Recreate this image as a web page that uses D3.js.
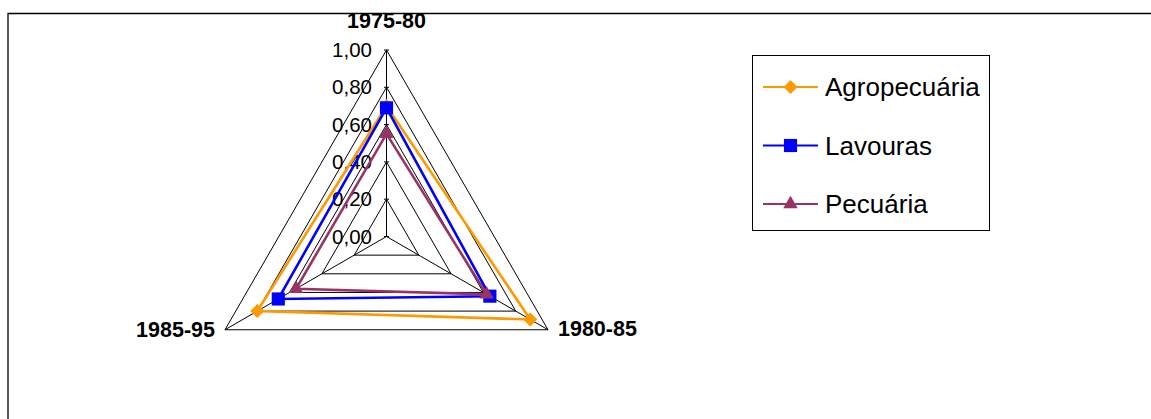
<!DOCTYPE html>
<meta charset="utf-8">
<script src="https://d3js.org/d3.v7.min.js"></script>
<style>
  body { margin: 0; background: #fff; }
  text { font-family: "Liberation Sans", Arial, sans-serif; }
</style>
<div id="chart"></div>
<script>

// data
var categories = ["1975-80", "1980-85", "1985-95"];
var agropecuaria = [0.70, 0.89, 0.80];
var lavouras = [0.69, 0.64, 0.67];
var pecuaria = [0.55, 0.62, 0.56];
var tickValues = [0, 0.2, 0.4, 0.6, 0.8, 1.0];

var series = [
  {name: "Agropecuária", values: agropecuaria, color: "#FF9900", symbol: d3.symbolDiamond2, size: 125},
  {name: "Lavouras", values: lavouras, color: "#0000FF", symbol: d3.symbolSquare2, size: 220},
  {name: "Pecuária", values: pecuaria, color: "#993366", symbol: d3.symbolTriangle2, size: 150}
];

var width = 1151, height = 419;
var cx = 386.5, cy = 236.5;

var svg = d3.select("#chart").append("svg")
  .attr("width", width)
  .attr("height", height);

// chart area border (only top and left show)
svg.append("path")
  .attr("d", "M8," + height + "V13.5H" + width)
  .attr("fill", "none")
  .attr("stroke", "#000")
  .attr("stroke-width", 1.3);

var r = d3.scaleLinear().domain([0, 1]).range([0, 186.5]);
var angle = d3.scaleLinear().domain([0, categories.length]).range([-Math.PI / 2, 1.5 * Math.PI]);

function pt(i, v) {
  var a = angle(i);
  return [cx + r(v) * Math.cos(a), cy + r(v) * Math.sin(a)];
}

var g = svg.append("g");

// grid rings
tickValues.slice(1).forEach(function(t) {
  g.append("path")
    .attr("d", d3.line()(categories.map(function(c, i) { return pt(i, t); })) + "Z")
    .attr("fill", "none")
    .attr("stroke", "#000")
    .attr("stroke-width", 1);
});

// spokes
categories.forEach(function(c, i) {
  var p = pt(i, 1);
  g.append("line")
    .attr("x1", cx).attr("y1", cy)
    .attr("x2", p[0]).attr("y2", p[1])
    .attr("stroke", "#000")
    .attr("stroke-width", 1);
});

// value axis ticks + labels on the top spoke
var fmt = d3.formatLocale({decimal: ",", thousands: ".", grouping: [3], currency: ["", ""]}).format(".2f");
tickValues.forEach(function(t) {
  var p = pt(0, t);
  g.append("line")
    .attr("x1", p[0] - 2.5).attr("x2", p[0] + 2.5)
    .attr("y1", p[1]).attr("y2", p[1])
    .attr("stroke", "#000");
  g.append("text")
    .attr("x", 372)
    .attr("y", p[1])
    .attr("dy", "0.35em")
    .attr("text-anchor", "end")
    .attr("font-size", 20.5)
    .attr("fill", "#000")
    .text(fmt(t));
});

// category labels
var catPos = [
  {x: 386.5, y: 28, anchor: "middle"},
  {x: 558, y: 336, anchor: "start"},
  {x: 215, y: 337, anchor: "end"}
];
categories.forEach(function(c, i) {
  g.append("text")
    .attr("x", catPos[i].x)
    .attr("y", catPos[i].y)
    .attr("text-anchor", catPos[i].anchor)
    .attr("font-size", 21.5)
    .attr("font-weight", "bold")
    .attr("fill", "#000")
    .text(c);
});

// series
series.forEach(function(s) {
  var pts = s.values.map(function(v, i) { return pt(i, v); });
  g.append("path")
    .attr("d", d3.line()(pts) + "Z")
    .attr("fill", "none")
    .attr("stroke", s.color)
    .attr("stroke-width", 2.6)
    .attr("stroke-linejoin", "miter");
  g.selectAll(null)
    .data(pts)
    .enter()
    .append("path")
    .attr("transform", function(d) { return "translate(" + d[0] + "," + d[1] + ")"; })
    .attr("d", d3.symbol().type(s.symbol).size(s.size))
    .attr("fill", s.color);
});

// legend
var legend = svg.append("g");
legend.append("rect")
  .attr("x", 752.5).attr("y", 55.5)
  .attr("width", 237).attr("height", 175)
  .attr("fill", "#fff")
  .attr("stroke", "#000")
  .attr("stroke-width", 1);

var ly = d3.scalePoint().domain(series.map(function(s) { return s.name; })).range([87, 204]);

series.forEach(function(s) {
  var y = ly(s.name);
  legend.append("line")
    .attr("x1", 763).attr("x2", 818)
    .attr("y1", y).attr("y2", y)
    .attr("stroke", s.color)
    .attr("stroke-width", 2.2);
  legend.append("path")
    .attr("transform", "translate(790.5," + y + ")")
    .attr("d", d3.symbol().type(s.symbol).size(s.size))
    .attr("fill", s.color);
  legend.append("text")
    .attr("x", 825)
    .attr("y", y)
    .attr("dy", "0.35em")
    .attr("font-size", 26)
    .attr("fill", "#000")
    .text(s.name);
});

</script>
